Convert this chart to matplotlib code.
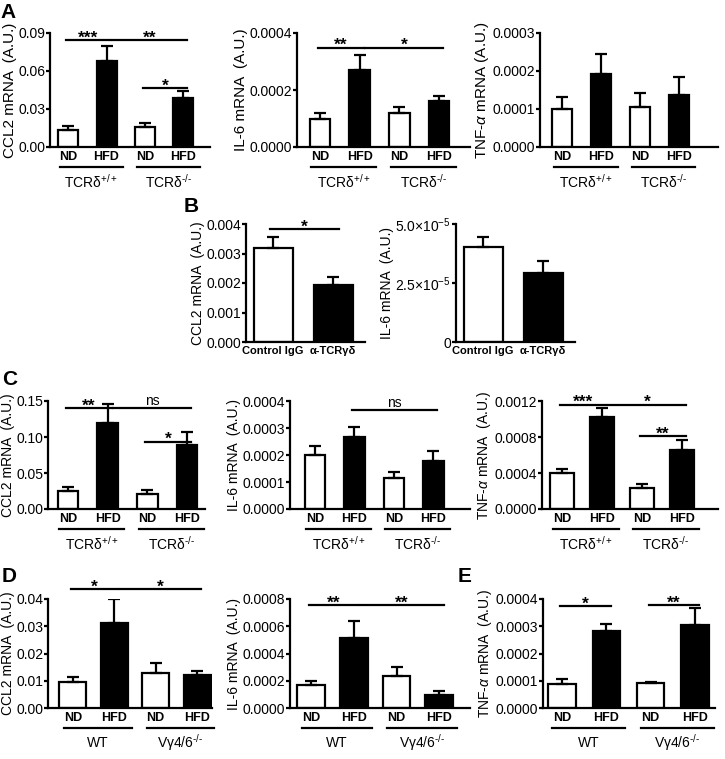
import matplotlib
matplotlib.use('Agg')
import numpy as np
import matplotlib.pyplot as plt
from matplotlib.ticker import FormatStrFormatter, FixedLocator
from matplotlib.transforms import ScaledTranslation

plt.rcParams['font.family'] = ['Liberation Sans', 'DejaVu Sans']
plt.rcParams['mathtext.fontset'] = 'custom'
plt.rcParams['mathtext.rm'] = 'Liberation Sans'
plt.rcParams['mathtext.it'] = 'Liberation Sans:italic'
plt.rcParams['mathtext.bf'] = 'Liberation Sans:bold'

W, H, DPI = 725, 759, 100

# ---- data ----
diet = ['ND', 'HFD', 'ND', 'HFD']
diet_colors = ['white', 'black', 'white', 'black']
tcr_groups = ['TCRδ$^{+/+}$', 'TCRδ$^{\\text{-/-}}$']
vg_groups = ['WT', 'Vγ4/6$^{\\text{-/-}}$']
ab_labels = ['Control IgG', 'α-TCRγδ']
ab_colors = ['white', 'black']

# A: TCRd+/+ vs TCRd-/- on ND / HFD
a_ccl2 = [0.0137, 0.0676, 0.0158, 0.0389]
a_ccl2_err = [0.0026, 0.0121, 0.0031, 0.0053]
a_il6 = [0.000100, 0.000271, 0.000121, 0.000163]
a_il6_err = [0.000020, 0.000053, 0.000020, 0.000016]
a_tnf = [0.000099, 0.000193, 0.000105, 0.000138]
a_tnf_err = [0.000032, 0.000052, 0.000036, 0.000047]

# B: control IgG vs anti-TCRgd
b_ccl2 = [0.00317, 0.00194]
b_ccl2_err = [0.00039, 0.00026]
b_il6 = [4.02e-5, 2.92e-5]
b_il6_err = [0.42e-5, 0.52e-5]

# C
c_ccl2 = [0.0256, 0.1195, 0.0206, 0.0890]
c_ccl2_err = [0.0045, 0.0265, 0.0060, 0.0185]
c_il6 = [0.000200, 0.000268, 0.000115, 0.000176]
c_il6_err = [0.000033, 0.000035, 0.000021, 0.000039]
c_tnf = [0.000400, 0.001022, 0.000230, 0.000660]
c_tnf_err = [0.000049, 0.000098, 0.000045, 0.000102]

# D: WT vs Vg4/6-/-
d_ccl2 = [0.0096, 0.0312, 0.0128, 0.0121]
d_ccl2_err = [0.0016, 0.0088, 0.0037, 0.0016]
d_il6 = [0.000169, 0.000514, 0.000237, 0.000097]
d_il6_err = [0.000029, 0.000124, 0.000067, 0.000025]

# E
e_tnf = [0.0000891, 0.000283, 0.0000914, 0.000306]
e_tnf_err = [0.0000169, 0.000024, 0.0000036, 0.000060]

fig = plt.figure(figsize=(W / DPI, H / DPI), dpi=DPI)


def px_axes(x0, y0, x1, y1):
    return fig.add_axes([x0 / W, 1 - y1 / H, (x1 - x0) / W, (y1 - y0) / H])


def below(ax, dy):
    # x in data, y = axis line shifted down by dy pixels
    return ax.get_xaxis_transform() + ScaledTranslation(0, -dy / DPI, fig.dpi_scale_trans)


def panel(rect, xlim, width, vals, errs, colors, ylim, step, fmt, ylabel,
          xlabels, groups=None, brackets=(), xfont=9, yticklabels=None, yfont=10):
    ax = px_axes(*rect)
    pos = np.arange(len(vals))
    ax.bar(pos, vals, width, color=colors, edgecolor='black', linewidth=1.6, zorder=2)
    ax.errorbar(pos, vals, yerr=[np.zeros(len(vals)), errs], fmt='none',
                ecolor='black', elinewidth=1.6, capsize=4.5, capthick=1.6, zorder=3)
    ax.set_xlim(*xlim)
    ax.set_ylim(*ylim)
    ticks = np.arange(0, ylim[1] + step / 2, step)
    ax.yaxis.set_major_locator(FixedLocator(ticks))
    if yticklabels is not None:
        ax.set_yticklabels(yticklabels)
    else:
        ax.yaxis.set_major_formatter(FormatStrFormatter(fmt))
    ax.set_xticks(pos)
    ax.set_xticklabels(xlabels, fontsize=xfont, fontweight='bold')
    ax.tick_params(axis='x', length=0, pad=3)
    ax.tick_params(axis='y', length=3, width=1.6, direction='out', labelsize=10, pad=0.5)
    for s in ['top', 'right']:
        ax.spines[s].set_visible(False)
    for s in ['left', 'bottom']:
        ax.spines[s].set_linewidth(1.6)
    ax.set_ylabel(ylabel, fontsize=yfont, labelpad=1)

    if groups is not None:
        for g, name in enumerate(groups):
            xa, xb = pos[2 * g] - 0.22, pos[2 * g + 1] + 0.42
            ax.plot([xa, xb], [0, 0], color='black', lw=1.6, clip_on=False,
                    transform=below(ax, 20))
            ax.text((xa + xb) / 2, 0, name, ha='center', va='center', fontsize=10,
                    transform=below(ax, 35))

    ends = [(j, y) for i, j, y, t in brackets]
    for i, j, y, t in brackets:
        x0 = pos[i] + 0.14 if (i, y) in ends else pos[i] - 0.05
        x1 = pos[j] + 0.1
        ax.plot([x0, x1], [y, y], color='black', lw=1.6, clip_on=False, zorder=4)
        if t == 'ns':
            ax.text((x0 + x1) / 2, y, t, ha='center', va='bottom', fontsize=10)
        else:
            ax.text((x0 + x1) / 2, y - ylim[1] * 0.05, t, ha='center', va='bottom',
                    fontsize=12.5, fontweight='bold')
    return ax


# ---- row A ----
panel((50, 33, 210, 147), (-0.47, 3.69), 0.52, a_ccl2, a_ccl2_err, diet_colors,
      (0, 0.09), 0.03, '%.2f', 'CCL2 mRNA  (A.U.)', diet, tcr_groups,
      [(0, 1, 0.0842, '***'), (1, 3, 0.0842, '**'), (2, 3, 0.0466, '*')], yfont=11)
panel((297, 33, 470, 147), (-0.58, 3.78), 0.52, a_il6, a_il6_err, diet_colors,
      (0, 0.0004), 0.0002, '%.4f', 'IL-6 mRNA  (A.U.)', diet, tcr_groups,
      [(0, 1, 0.000349, '**'), (1, 3, 0.000349, '*')], yfont=11)
panel((540, 33, 718, 147), (-0.57, 4.0), 0.52, a_tnf, a_tnf_err, diet_colors,
      (0, 0.0003), 0.0001, '%.4f', 'TNF-$\\alpha$ mRNA (A.U.)', diet, tcr_groups,
      yfont=11)

# ---- row B ----
panel((246, 224, 365, 342), (-0.45, 1.53), 0.65, b_ccl2, b_ccl2_err, ab_colors,
      (0, 0.004), 0.001, '%.3f', 'CCL2 mRNA  (A.U.)', ab_labels, None,
      [(0, 1, 0.00384, '*')], xfont=8)
panel((456, 224, 575, 342), (-0.45, 1.53), 0.65, b_il6, b_il6_err, ab_colors,
      (0, 5e-5), 2.5e-5, '%g', 'IL-6 mRNA  (A.U.)', ab_labels, None, (), xfont=8,
      yticklabels=['0', '2.5×10$^{-5}$', '5.0×10$^{-5}$'])

# ---- row C ----
panel((48, 401, 205, 509), (-0.5, 3.45), 0.52, c_ccl2, c_ccl2_err, diet_colors,
      (0, 0.15), 0.05, '%.2f', 'CCL2 mRNA  (A.U.)', diet, tcr_groups,
      [(0, 1, 0.140, '**'), (1, 3, 0.140, 'ns'), (2, 3, 0.0935, '*')])
panel((290, 401, 470, 509), (-0.63, 3.93), 0.52, c_il6, c_il6_err, diet_colors,
      (0, 0.0004), 0.0001, '%.4f', 'IL-6 mRNA  (A.U.)', diet, tcr_groups,
      [(1, 3, 0.000368, 'ns')])
panel((542, 401, 718, 509), (-0.5, 3.9), 0.6, c_tnf, c_tnf_err, diet_colors,
      (0, 0.0012), 0.0004, '%.4f', 'TNF-$\\alpha$ mRNA  (A.U.)', diet, tcr_groups,
      [(0, 1, 0.00116, '***'), (1, 3, 0.00116, '*'), (2, 3, 0.00081, '**')])

# ---- row D / E ----
panel((48, 599, 212, 708), (-0.6, 3.36), 0.65, d_ccl2, d_ccl2_err, diet_colors,
      (0, 0.04), 0.01, '%.2f', 'CCL2 mRNA  (A.U.)', diet, vg_groups,
      [(0, 1, 0.0437, '*'), (1, 3, 0.0437, '*')])
panel((290, 599, 470, 708), (-0.5, 3.72), 0.65, d_il6, d_il6_err, diet_colors,
      (0, 0.0008), 0.0002, '%.4f', 'IL-6 mRNA  (A.U.)', diet, vg_groups,
      [(0, 1, 0.000755, '**'), (1, 3, 0.000755, '**')])
panel((543, 599, 715, 708), (-0.43, 3.45), 0.62, e_tnf, e_tnf_err, diet_colors,
      (0, 0.0004), 0.0001, '%.4f', 'TNF-$\\alpha$ mRNA  (A.U.)', diet, vg_groups,
      [(0, 1, 0.000374, '*'), (2, 3, 0.000378, '**')])

# panel letters
for letter, (x, y) in zip('ABCDE', [(8, 12), (191, 207), (10, 379), (9, 577), (465, 577)]):
    fig.text(x / W, 1 - y / H, letter, fontsize=15, fontweight='bold', ha='center', va='center')

fig.savefig('out.png', dpi=DPI)
